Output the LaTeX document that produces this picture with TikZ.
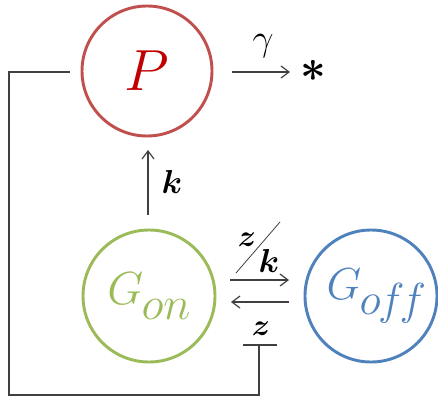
\documentclass[tikz,border=0pt]{standalone}
\usepackage{graphicx}
\usepackage{amsmath,amssymb}
\usetikzlibrary{arrows.meta}
\definecolor{cred}{HTML}{C0504D}
\definecolor{ctxt}{HTML}{C00000}
\definecolor{cgreen}{HTML}{9BBB59}
\definecolor{cblue}{HTML}{4F81BD}
\definecolor{cline}{HTML}{404040}
\tikzset{
  species/.style={circle,line width=2.2pt,inner sep=0pt,minimum size=#1},
  arr/.style={line width=0.9pt,draw=cline,-{Straight Barb[length=6pt,width=9pt,line width=0.9pt]}},
  fb/.style={line width=1.1pt,draw=cline},
  lab/.style={inner sep=0pt}
}
\begin{document}
\begin{tikzpicture}[x=0.75pt,y=-0.75pt]
\useasboundingbox (0,0) rectangle (438,396);
\node[species=97.5pt,draw=cred,text=ctxt] (P) at (147,71) {\Huge\scalebox{1.75}{$P$}};
\node[species=99pt,draw=cgreen,text=cgreen] (Gon) at (149,296) {\Huge\scalebox{1.4}{$G$\kern-1pt\raisebox{-8pt}{$on$}}};
\node[species=99pt,draw=cblue,text=cblue] (Goff) at (371,296) {\Huge\kern8pt\scalebox{1.35}{$G$\kern-1pt\raisebox{-8pt}{$o\mkern-1mu f\mkern-2mu f$}}};
\node[lab] (star) at (313,71) {\Huge\scalebox{1.35}{$\boldsymbol{\ast}$}};
\node[lab] (gam) at (263,46) {\huge\scalebox{1.35}{$\gamma$}};
\node[lab] (k1) at (172,182) {\Huge$\boldsymbol{k}$};
\node[lab] (z1) at (247,240) {\huge\scalebox{1.1}{$\boldsymbol{z}$}};
\node[lab] (k2) at (269,261) {\Huge$\boldsymbol{k}$};
\node[lab] (z2) at (261,329) {\huge\scalebox{1.1}{$\boldsymbol{z}$}};
% degradation
\coordinate (ps) at (232,72);
\coordinate (pe) at (290,72);
\draw[arr] (ps) -- (pe);
% production
\coordinate (ks) at (148,215);
\coordinate (ke) at (148,150);
\draw[arr] (ks) -- (ke);
% switching
\coordinate (f1) at (230,280);
\coordinate (f2) at (289,280);
\coordinate (b1) at (289,302);
\coordinate (b2) at (231,302);
\draw[arr] (f1) -- (f2);
\draw[arr] (b1) -- (b2);
\draw[line width=0.6pt,draw=cline] (236,273) -- (280,222);
% feedback
\coordinate (fa) at (70,72);
\coordinate (fb1) at (9,72);
\coordinate (fb2) at (9,395);
\coordinate (fb3) at (259,395);
\coordinate (fc) at (259,345);
\draw[fb] (fa) -- (fb1) -- (fb2) -- (fb3) -- (fc);
\draw[fb] (243,345) -- (277,345);
\end{tikzpicture}
\end{document}
